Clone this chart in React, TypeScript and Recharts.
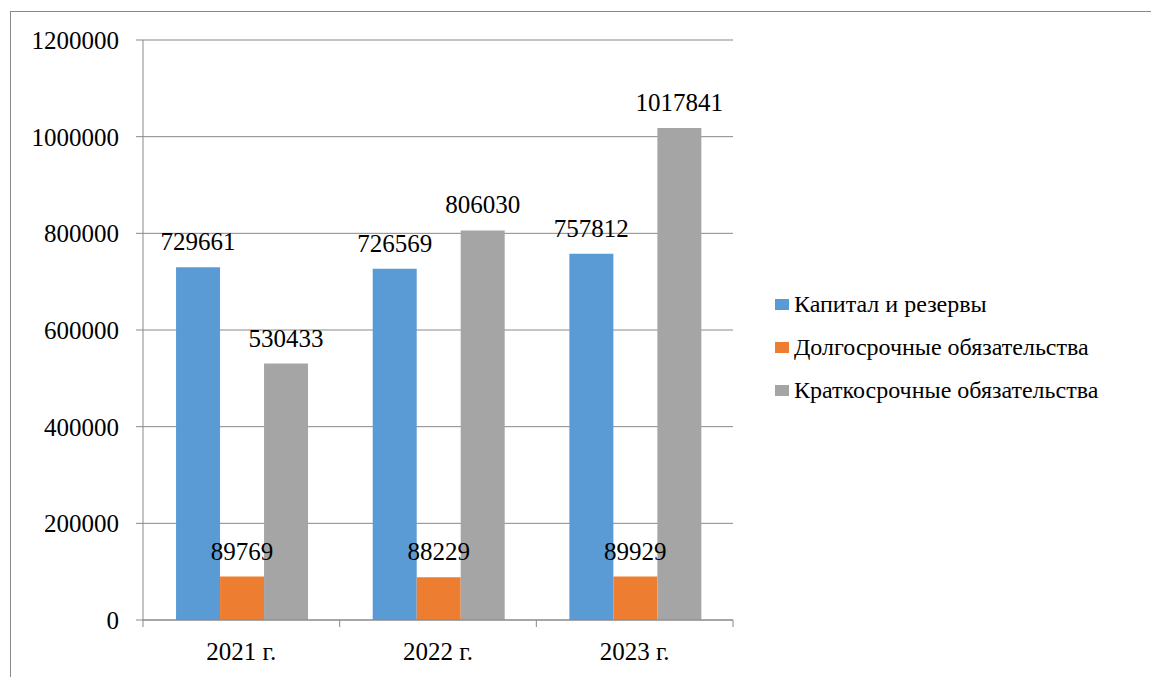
import { BarChart, Bar, XAxis, YAxis, CartesianGrid, Legend, LabelList } from 'recharts';

const years = ['2021 г.', '2022 г.', '2023 г.'];
const capital = [729661, 726569, 757812];
const longTerm = [89769, 88229, 89929];
const shortTerm = [530433, 806030, 1017841];
const yTicks = [0, 200000, 400000, 600000, 800000, 1000000, 1200000];
const seriesNames = ['Капитал и резервы', 'Долгосрочные обязательства', 'Краткосрочные обязательства'];

const data = years.map((year, i) => ({
  year,
  capital: capital[i],
  longTerm: longTerm[i],
  shortTerm: shortTerm[i],
}));

const FONT = '"Liberation Serif", "Times New Roman", Times, "DejaVu Serif", serif';
const AXIS = '#898989';

function YearTick(props: any) {
  const { x, y, payload, index, visibleTicksCount, width } = props;
  const band = width / visibleTicksCount;
  const top = y - 22;
  return (
    <g>
      <line x1={x - band / 2} x2={x - band / 2} y1={top} y2={top + 7} stroke={AXIS} />
      {index === visibleTicksCount - 1 && (
        <line x1={x + band / 2} x2={x + band / 2} y1={top} y2={top + 7} stroke={AXIS} />
      )}
      <text x={x} y={y} dy="0.71em" textAnchor="middle" fontSize={25} fontFamily={FONT} fill="#000">
        {payload.value}
      </text>
    </g>
  );
}

function renderLegend(props: any) {
  const items = [...(props.payload || [])].sort(
    (a: any, b: any) => seriesNames.indexOf(a.value) - seriesNames.indexOf(b.value)
  );
  return (
    <div style={{ fontFamily: FONT, fontSize: 24, color: '#000' }}>
      {items.map((item: any) => (
        <div key={item.value} style={{ display: 'flex', alignItems: 'center', height: 43, whiteSpace: 'nowrap' }}>
          <span style={{ display: 'inline-block', width: 14, height: 11, background: item.color, marginRight: 5 }} />
          <span>{item.value}</span>
        </div>
      ))}
    </div>
  );
}

export default function App() {
  return (
    <div style={{ position: 'absolute', left: 0, top: 0, width: 1151, height: 677, overflow: 'hidden', background: '#fff', fontFamily: FONT }}>
      <div
        style={{
          position: 'absolute',
          left: 10,
          top: 11,
          width: 1200,
          height: 700,
          borderLeft: `1px solid ${AXIS}`,
          borderTop: `1px solid ${AXIS}`,
        }}
      />
      <BarChart
        width={1151}
        height={677}
        data={data}
        margin={{ top: 40, right: 418, left: 0, bottom: 0 }}
        barCategoryGap="16.8%"
        barGap={0}
        style={{ fontFamily: FONT }}
      >
        <CartesianGrid vertical={false} stroke={AXIS} />
        <XAxis
          dataKey="year"
          height={57}
          axisLine={{ stroke: AXIS }}
          tickLine={false}
          tickSize={0}
          tickMargin={22}
          tick={<YearTick />}
        />
        <YAxis
          width={143}
          domain={[0, 1200000]}
          ticks={yTicks}
          interval={0}
          axisLine={{ stroke: AXIS }}
          tickLine={{ stroke: AXIS }}
          tickSize={7}
          tickMargin={17}
          tick={{ fill: '#000', fontSize: 25, fontFamily: FONT }}
        />
        <Legend
          layout="vertical"
          align="center"
          verticalAlign="middle"
          content={renderLegend}
          wrapperStyle={{ left: 775, top: 283, width: 376 }}
        />
        <Bar dataKey="capital" name={seriesNames[0]} fill="#5B9BD5" isAnimationActive={false}>
          <LabelList dataKey="capital" position="top" offset={17} fill="#000" fontSize={25} fontFamily={FONT} />
        </Bar>
        <Bar dataKey="longTerm" name={seriesNames[1]} fill="#ED7D31" isAnimationActive={false}>
          <LabelList dataKey="longTerm" position="top" offset={17} fill="#000" fontSize={25} fontFamily={FONT} />
        </Bar>
        <Bar dataKey="shortTerm" name={seriesNames[2]} fill="#A5A5A5" isAnimationActive={false}>
          <LabelList dataKey="shortTerm" position="top" offset={17} fill="#000" fontSize={25} fontFamily={FONT} />
        </Bar>
      </BarChart>
    </div>
  );
}
